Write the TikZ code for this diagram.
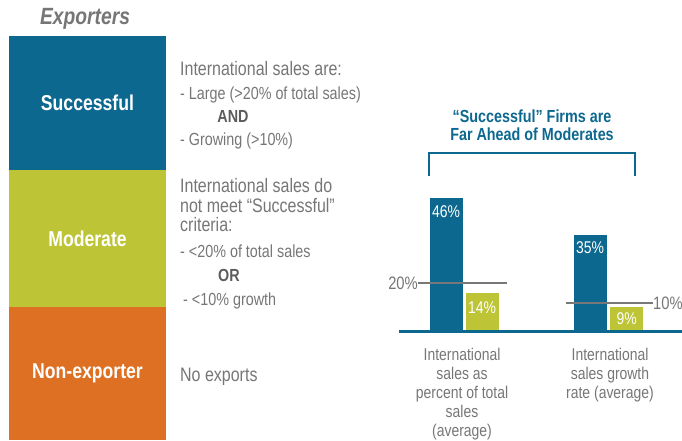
\documentclass[tikz,border=0pt]{standalone}
\usepackage{fontspec}
\setmainfont{Liberation Sans}[FakeStretch=0.82]
\definecolor{ExpBlue}{RGB}{13,104,143}
\definecolor{ExpGreen}{RGB}{189,197,55}
\definecolor{ExpOrange}{RGB}{222,112,36}
\definecolor{TextGray}{RGB}{118,118,118}
\definecolor{WordGray}{RGB}{92,92,92}
\definecolor{RuleGray}{RGB}{120,120,120}

\begin{document}
\begin{tikzpicture}
[
x=1pt, y=-1pt,
Band/.style={rectangle, inner sep=0pt, minimum width=157pt, text=white, font=\fontsize{21.5}{24}\selectfont\bfseries},
Lead/.style={anchor=base west, inner sep=0pt, text=TextGray, font=\fontsize{19.5}{22}\selectfont},
Item/.style={anchor=base west, inner sep=0pt, text=TextGray, font=\fontsize{17.5}{20}\selectfont},
Joiner/.style={anchor=base, inner sep=0pt, text=WordGray, font=\fontsize{17.5}{20}\selectfont\bfseries},
Bar/.style={rectangle, inner sep=0pt, anchor=south west, minimum width=33pt},
Value/.style={anchor=north west, inner sep=0pt, text=white, font=\fontsize{17}{20}\selectfont},
Refline/.style={draw=RuleGray, line width=2.5pt},
Refvalue/.style={inner sep=0pt, text=TextGray, font=\fontsize{18}{20}\selectfont},
Axis/.style={draw=ExpBlue, line width=3pt},
Bracket/.style={draw=ExpBlue, line width=2.5pt},
Caption/.style={anchor=north, align=center, inner sep=0pt, text=TextGray, font=\fontsize{17}{19}\selectfont},
]

\useasboundingbox (0,0) rectangle (682,440);

% left column
\node[inner sep=0pt, text=TextGray, font=\fontsize{23.5}{26}\selectfont\bfseries\itshape] (exporters) at (85,19) {Exporters};

\node[Band, fill=ExpBlue, minimum height=134pt] (successful) at (87.5,103) {Successful};
\node[Band, fill=ExpGreen, minimum height=137pt] (moderate) at (87.5,238.5) {Moderate};
\node[Band, fill=ExpOrange, minimum height=133pt] (nonexp) at (87.5,373.5) {Non-exporter};

\node[Lead] (succA) at (180,75) {International sales are:};
\node[Item] (succB) at (180,99) {- Large (>20\% of total sales)};
\node[Joiner] (succAnd) at (233,122) {AND};
\node[Item] (succC) at (180,145) {- Growing (>10\%)};

\node[Lead] (modA) at (180,192) {International sales do};
\node[Lead] (modB) at (180,212) {not meet “Successful”};
\node[Lead] (modC) at (180,231) {criteria:};
\node[Item] (modD) at (180,257) {- <20\% of total sales};
\node[Joiner] (modOr) at (229,281) {OR};
\node[Item] (modE) at (183,305) {- <10\% growth};

\node[Lead] (nonA) at (180,381) {No exports};

% chart
\node[inner sep=0pt, align=center, text=ExpBlue, font=\fontsize{17.5}{18}\selectfont\bfseries] (heading) at (532,125) {“Successful” Firms are\\Far Ahead of Moderates};

\coordinate (brL) at (429,176);
\coordinate (brTL) at (429,153);
\coordinate (brTR) at (635,153);
\coordinate (brR) at (635,176);
\draw[Bracket] (brL) -- (brTL) -- (brTR) -- (brR);

\node[Bar, fill=ExpBlue, minimum height=133pt] (sucShare) at (430,331) {};
\node[Bar, fill=ExpGreen, minimum height=38pt] (modShare) at (466,331) {};
\node[Bar, fill=ExpBlue, minimum height=96pt] (sucGrowth) at (574,331) {};
\node[Bar, fill=ExpGreen, minimum height=24pt] (modGrowth) at (610,331) {};

\node[Value] (valSucShare) at ([shift={(2,8)}]sucShare.north west) {46\%};
\node[Value] (valModShare) at ([shift={(2,9)}]modShare.north west) {14\%};
\node[Value] (valSucGrowth) at ([shift={(2,7)}]sucGrowth.north west) {35\%};
\node[Value, anchor=north] (valModGrowth) at ([shift={(0,6)}]modGrowth.north) {9\%};

\node[Refvalue, anchor=east] (ref20) at (418,283) {20\%};
\coordinate (ref20end) at (507,283);
\draw[Refline] (ref20.east) -- (ref20end);

\node[Refvalue, anchor=west] (ref10) at (653,303) {10\%};
\coordinate (ref10start) at (566,303);
\draw[Refline] (ref10start) -- (ref10.west);

\coordinate (axisL) at (399,331);
\coordinate (axisR) at (682,331);
\draw[Axis] (axisL) -- (axisR);

\node[Caption] (capShare) at (462,348) {International\\sales as\\percent of total\\sales\\(average)};
\node[Caption] (capGrowth) at (610,348) {International\\sales growth\\rate (average)};

\end{tikzpicture}
\end{document}
